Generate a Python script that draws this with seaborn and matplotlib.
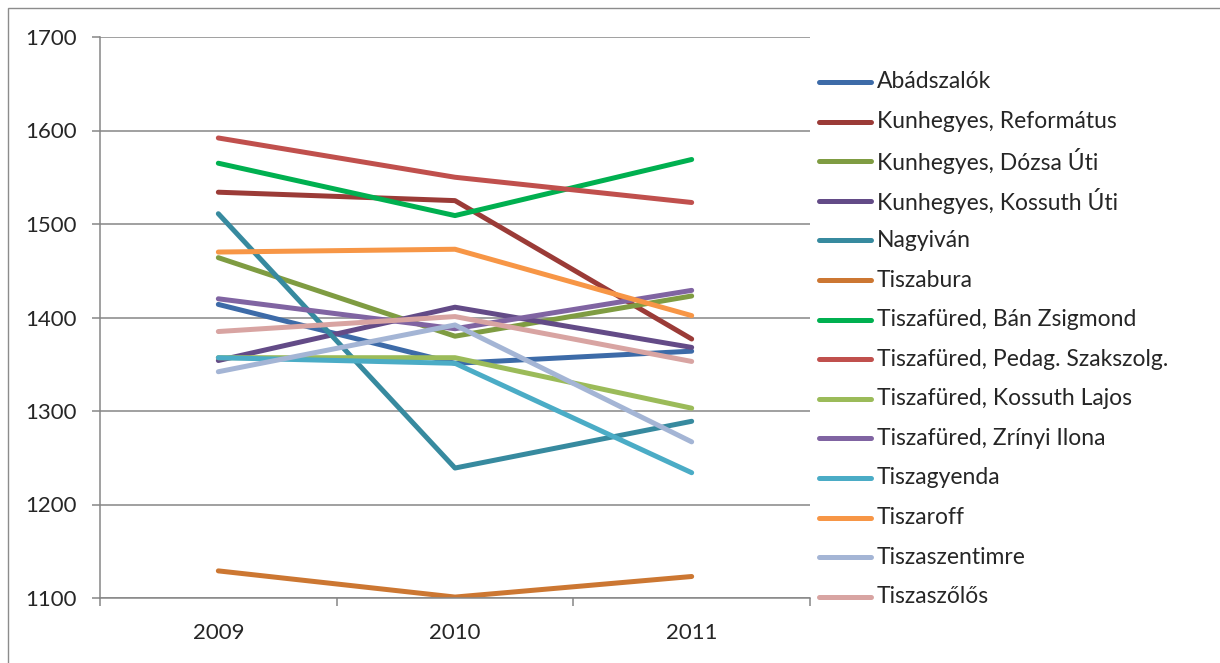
import numpy as np
import pandas as pd
import seaborn as sns
import matplotlib.pyplot as plt
from matplotlib.patches import Rectangle
from matplotlib.lines import Line2D

# adatok
years = ["2009", "2010", "2011"]
schools = ["Abádszalók", "Kunhegyes, Református", "Kunhegyes, Dózsa Úti",
           "Kunhegyes, Kossuth Úti", "Nagyiván", "Tiszabura",
           "Tiszafüred, Bán Zsigmond", "Tiszafüred, Pedag. Szakszolg.",
           "Tiszafüred, Kossuth Lajos", "Tiszafüred, Zrínyi Ilona",
           "Tiszagyenda", "Tiszaroff", "Tiszaszentimre", "Tiszaszőlős"]
abadszalok = [1414, 1351, 1364]
kunhegyes_ref = [1534, 1525, 1377]
kunhegyes_dozsa = [1464, 1380, 1423]
kunhegyes_kossuth = [1354, 1411, 1368]
nagyivan = [1511, 1239, 1289]
tiszabura = [1129, 1101, 1123]
tf_ban = [1565, 1509, 1569]
tf_pedag = [1592, 1550, 1523]
tf_kossuth = [1357, 1357, 1303]
tf_zrinyi = [1420, 1388, 1429]
tiszagyenda = [1357, 1351, 1234]
tiszaroff = [1470, 1473, 1402]
tiszaszentimre = [1342, 1392, 1267]
tiszaszolos = [1385, 1401, 1353]

values = [abadszalok, kunhegyes_ref, kunhegyes_dozsa, kunhegyes_kossuth, nagyivan,
          tiszabura, tf_ban, tf_pedag, tf_kossuth, tf_zrinyi, tiszagyenda,
          tiszaroff, tiszaszentimre, tiszaszolos]
colors = ["#3D6BA8", "#9B3B37", "#7F9C42", "#634B87", "#378A9F", "#CC7732",
          "#00B050", "#C0504D", "#9BBB59", "#8064A2", "#4BACC6", "#F79646",
          "#A4B5D5", "#D8A4A2"]

rows = []
for name, vals in zip(schools, values):
    for y, v in zip(years, vals):
        rows.append({"iskola": name, "ev": y, "ertek": v})
df = pd.DataFrame(rows)

sns.set_style("white")
plt.rcParams['font.family'] = ['Lato', 'DejaVu Sans']

W, H = 1220, 663
fig = plt.figure(figsize=(W / 100, H / 100), dpi=100)
ax = fig.add_axes([100 / W, 1 - 598 / H, 710 / W, 561 / H])

sns.lineplot(data=df, x="ev", y="ertek", hue="iskola", hue_order=schools,
             palette=colors, sort=False, linewidth=3.6, ax=ax,
             solid_capstyle="round", legend=False)

ax.set_xlim(-0.5, 2.5)
ax.set_ylim(1100, 1700)
ax.set_yticks(np.arange(1100, 1701, 100))
ax.yaxis.grid(True, color="#868686", linewidth=1.1)
ax.set_axisbelow(True)
ax.set_xlabel("")
ax.set_ylabel("")

ax.set_xticks([0, 1, 2])
ax.set_xticklabels(years)
ax.set_xticks([-0.5, 0.5, 1.5, 2.5], minor=True)
ax.tick_params(axis="x", which="major", length=0, pad=18, labelsize=16)
ax.tick_params(axis="x", which="minor", length=6, width=1.1, color="#868686", direction="out")
ax.tick_params(axis="y", length=6, width=1.1, color="#868686", direction="out", pad=11, labelsize=16)
ax.xaxis.set_ticks_position("bottom")
ax.yaxis.set_ticks_position("left")

for side in ["top", "right"]:
    ax.spines[side].set_visible(False)
for side in ["left", "bottom"]:
    ax.spines[side].set_color("#868686")
    ax.spines[side].set_linewidth(1.1)

# jelmagyarázat egyenletes sorközzel
for i, (name, c) in enumerate(zip(schools, colors)):
    yy = 1 - (82 + i * 39.6) / H
    fig.add_artist(Line2D([819 / W, 871 / W], [yy, yy], transform=fig.transFigure,
                          color=c, linewidth=3.6, solid_capstyle="round"))
    fig.text(877 / W, yy, name, fontsize=16.5, va="center", ha="left")

# külső keret
fig.patches.append(Rectangle((8 / W, -0.1), 1.2, 1.1 - 8 / H, transform=fig.transFigure,
                             fill=False, edgecolor="#8c8c8c", linewidth=1))

fig.savefig("out.png", dpi=100)
